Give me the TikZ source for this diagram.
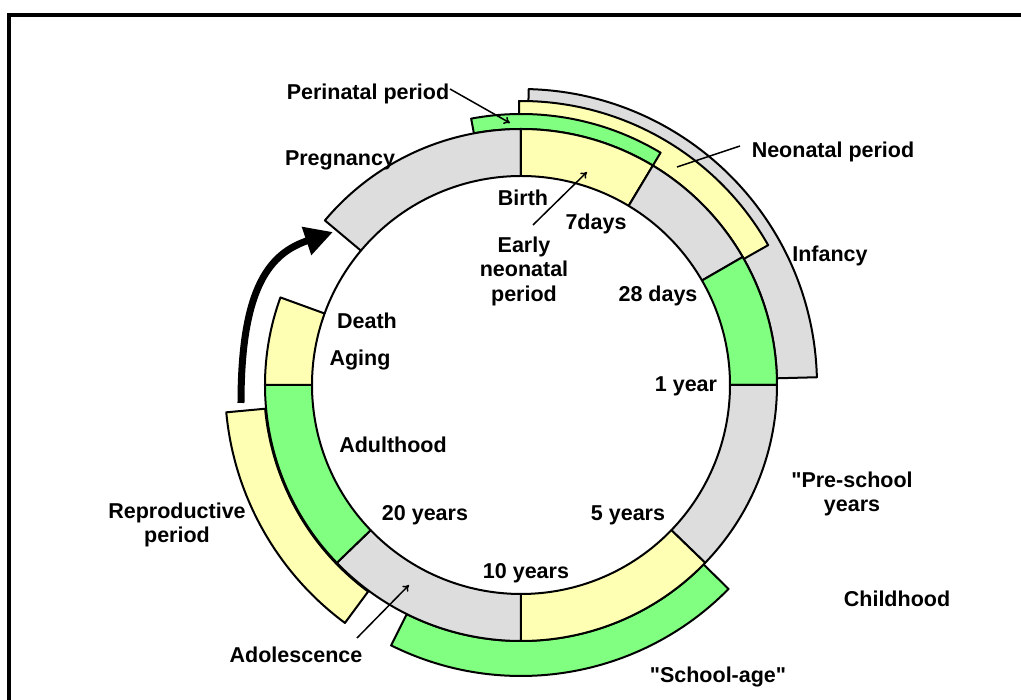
\documentclass[tikz,border=0pt]{standalone}
\usepackage{fontspec}
\setmainfont{Liberation Sans}[Ligatures=TeXOff]
\usetikzlibrary{arrows.meta}
\definecolor{segGray}{RGB}{221,221,221}
\definecolor{segYellow}{RGB}{255,255,179}
\definecolor{segGreen}{RGB}{128,255,128}
\newcommand\ringpiece[5]{% fill, inner r, outer r, start angle, end angle
  \filldraw[seg, fill=#1] (#4:#2) arc[start angle=#4, end angle=#5, radius=#2]
    -- (#5:#3) arc[start angle=#5, end angle=#4, radius=#3] -- cycle;}
\tikzset{
  seg/.style={draw=black, line width=2pt, line join=round},
  lbl/.style={font=\fontsize{21.5}{24.5}\selectfont\bfseries, inner sep=0pt, text height=0.75em, text depth=0.2em},
  lblm/.style={font=\fontsize{21.5}{24.5}\selectfont\bfseries, inner sep=0pt, align=center},
  pointer/.style={draw=black, line width=1.5pt},
  pointerhead/.style={pointer, -{To[length=6pt,width=8pt]}},
  bigarrow/.style={draw=black, line width=7pt, -{Triangle[length=28pt,width=28pt]}},
  frameline/.style={draw=black, line width=4pt, line join=miter},
}
\begin{document}
\begin{tikzpicture}[x=1pt, y=1pt]
\useasboundingbox (-521,-315) rectangle (500,385);
% frame
\coordinate (frameBL) at (-512,-315);
\coordinate (frameTL) at (-512,370);
\coordinate (frameTR) at (500,370);
\draw[frameline] (frameBL) -- (frameTL) -- (frameTR);

% outer bands (behind)
\ringpiece{segGray}{256}{296}{1.5}{88.5}
\ringpiece{segYellow}{256}{284}{29.5}{90.4}
\ringpiece{segGreen}{256}{271}{59}{100.6}
\ringpiece{segGreen}{256}{291}{-116.5}{-44.5}
\ringpiece{segYellow}{257}{296}{185.3}{233.5}

% main ring
\ringpiece{segGray}{209}{256}{90}{140}
\ringpiece{segYellow}{209}{256}{59}{90}
\ringpiece{segGray}{209}{256}{30}{59}
\ringpiece{segGreen}{209}{256}{0}{30}
\ringpiece{segGray}{209}{256}{-44}{0}
\ringpiece{segYellow}{209}{256}{-90}{-44}
\ringpiece{segGray}{209}{256}{-136}{-90}
\ringpiece{segGreen}{209}{256}{180}{224}
\ringpiece{segYellow}{209}{256}{160}{180}
\draw[seg] (140:209) arc[start angle=140, end angle=160, radius=209];

% big arrow
\coordinate (arrowTail) at (-280,-18);
\coordinate (arrowTip) at (-188,153);
\draw[bigarrow] (arrowTail) .. controls (-280,100) and (-250,132) .. (arrowTip);

% labels
\node[lbl] (perinatal) at (-153,288) {Perinatal period};
\node[lbl] (pregnancy) at (-181,222) {Pregnancy};
\node[lbl] (neonatal) at (312,230) {Neonatal period};
\node[lbl] (birth) at (2,182) {Birth};
\node[lbl] (sevendays) at (75,158) {7days};
\node[lblm] (earlyneo) at (3,114) {Early\\neonatal\\period};
\node[lbl] (infancy) at (309,126) {Infancy};
\node[lbl] (days28) at (137,86) {28 days};
\node[lbl] (death) at (-154,59) {Death};
\node[lbl] (aging) at (-161,22) {Aging};
\node[lbl] (oneyear) at (165,-4) {1 year};
\node[lbl] (adulthood) at (-128,-65) {Adulthood};
\node[lblm] (preschool) at (331,-109) {"Pre-school\\years};
\node[lblm] (reproductive) at (-344,-140) {Reproductive\\period};
\node[lbl] (twentyyears) at (-96,-133) {20 years};
\node[lbl] (fiveyears) at (107,-133) {5 years};
\node[lbl] (tenyears) at (5,-191) {10 years};
\node[lbl] (childhood) at (376,-219) {Childhood};
\node[lbl] (adolescence) at (-225,-275) {Adolescence};
\node[lbl] (schoolage) at (197,-295) {"School-age"};

% pointer lines
\coordinate (perinatalFrom) at (-71,296);
\coordinate (perinatalTo) at (-11,262);
\draw[pointerhead] (perinatalFrom) -- (perinatalTo);
\coordinate (neonatalFrom) at (219,239);
\coordinate (neonatalTo) at (156,218);
\draw[pointer] (neonatalFrom) -- (neonatalTo);
\coordinate (earlyFrom) at (12,160);
\coordinate (earlyTo) at (66,213);
\draw[pointerhead] (earlyFrom) -- (earlyTo);
\coordinate (adolFrom) at (-164,-253);
\coordinate (adolTo) at (-112,-200);
\draw[pointerhead] (adolFrom) -- (adolTo);
\end{tikzpicture}
\end{document}
